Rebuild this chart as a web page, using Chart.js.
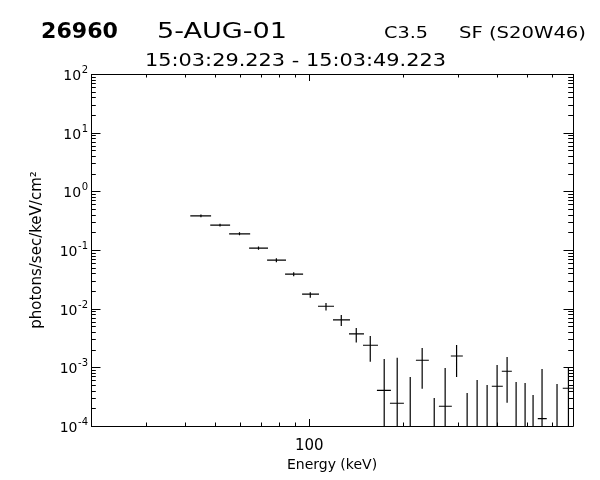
<!DOCTYPE html>
<html>
<head>
<meta charset="utf-8">
<script src="https://cdn.jsdelivr.net/npm/chart.js@4.4.1/dist/chart.umd.min.js"></script>
<style>
  html, body { margin: 0; padding: 0; background: #fff; }
  canvas { display: block; }
</style>
</head>
<body>
<canvas id="spectrum" width="600" height="480"></canvas>
<script>
// energy bins in keV
const binLo  = [41.6, 48.2, 55.4, 64.2, 73.3, 83.7, 94.9, 106.7, 119.2, 134.1, 148.7, 164.8, 181.4, 201.1, 219.7,
                241.7, 260.3, 284.3, 310.6, 331.9, 357.3, 384.6, 414.0, 445.8, 476.4, 505.2, 539.8, 598.4, 649.0];
const binHi  = [48.5, 55.8, 64.7, 73.8, 84.3, 95.6, 107.5, 120.1, 135.1, 149.8, 166.1, 182.7, 201.1, 219.7, 241.7,
                262.3, 286.4, 310.6, 331.9, 357.3, 384.6, 417.1, 445.8, 476.4, 505.2, 539.8, 576.8, 644.2, 708.9];
const binMid = [45.0, 51.8, 59.8, 68.8, 78.5, 89.2, 100.8, 113.2, 126.7, 141.5, 156.9, 173.9, 191.4, 210.7, 230.1,
                251.5, 272.6, 296.6, 320.6, 345.1, 371.5, 399.9, 430.5, 460.1, 491.6, 521.4, 557.1, 622.2, 676.8];

// photons/sec/keV/cm2, null = below the bottom of the plot
const flux   = [0.382, 0.265, 0.189, 0.1075, 0.0671, 0.0387, 0.0177, 0.0110, 0.00643, 0.00371, 0.00238, 4.06e-4, 2.44e-4, null, 1.32e-3,
                null, 2.17e-4, 1.56e-3, null, null, null, 4.76e-4, 8.57e-4, null, null, null, 1.34e-4, null, 4.40e-4];
// error bar ends (1e-6 = runs off the bottom)
const fluxLo = [0.363, 0.252, 0.178, 0.1006, 0.0620, 0.0358, 0.0154, 0.00927, 0.00508, 0.00264, 0.00124, 1e-6, 1e-6, 1e-6, 4.33e-4,
                1e-6, 1e-6, 6.85e-4, 1e-6, 1e-6, 1e-6, 1e-6, 2.50e-4, 1e-6, 1e-6, 1e-6, 1e-6, 1e-6, 1e-6];
const fluxHi = [0.402, 0.279, 0.200, 0.1149, 0.0726, 0.0419, 0.0191, 0.0125, 0.00783, 0.00470, 0.00343, 1.39e-3, 1.45e-3, 6.85e-4, 2.14e-3,
                3.0e-4, 9.76e-4, 2.41e-3, 3.66e-4, 6.09e-4, 5.01e-4, 1.10e-3, 1.50e-3, 5.63e-4, 5.41e-4, 3.38e-4, 9.38e-4, 5.21e-4, 9.95e-4];

const xTicks = [20, 30, 40, 50, 60, 70, 80, 90, 100, 200, 300, 400, 500, 600, 700];
const xTickLabels = { 100: '100' };
const yDecades = [-4, -3, -2, -1, 0, 1, 2];

const yTicks = [];
yDecades.forEach((d, i) => {
  if (i === yDecades.length - 1) { yTicks.push(Math.pow(10, d)); return; }
  for (let m = 1; m <= 9; m++) yTicks.push(m * Math.pow(10, d));
});

const isDecade = v => Math.abs(Math.log10(v) - Math.round(Math.log10(v))) < 1e-6;

// crosses: one path with gaps for the bin widths, one for the error bars
const hBars = [];
const vBars = [];
binMid.forEach((m, i) => {
  if (flux[i] !== null) {
    hBars.push({ x: binLo[i], y: flux[i] }, { x: binHi[i], y: flux[i] }, { x: binHi[i], y: null });
  }
  vBars.push({ x: m, y: fluxLo[i] }, { x: m, y: fluxHi[i] }, { x: m, y: null });
});

const FONT = 'DejaVu Sans';

const frame = {
  id: 'frame',
  afterDatasetsDraw(chart) {
    const { ctx, chartArea: a, scales: { x, y } } = chart;
    ctx.save();
    ctx.strokeStyle = '#000';
    ctx.lineWidth = 1;
    ctx.beginPath();
    ctx.rect(a.left + 0.5, a.top + 0.5, a.right - a.left, a.bottom - a.top);
    xTicks.forEach(v => {
      const px = Math.round(x.getPixelForValue(v)) + 0.5;
      const len = isDecade(v) ? 7 : 3.5;
      ctx.moveTo(px, a.bottom); ctx.lineTo(px, a.bottom - len);
      ctx.moveTo(px, a.top); ctx.lineTo(px, a.top + len);
    });
    yTicks.forEach(v => {
      const py = Math.round(y.getPixelForValue(v)) + 0.5;
      const len = isDecade(v) ? 9.5 : 4.8;
      ctx.moveTo(a.left, py); ctx.lineTo(a.left + len, py);
      ctx.moveTo(a.right, py); ctx.lineTo(a.right - len, py);
    });
    ctx.stroke();

    // y labels: 10 with raised exponent
    ctx.fillStyle = '#000';
    ctx.textAlign = 'right';
    ctx.textBaseline = 'alphabetic';
    yDecades.forEach(d => {
      const py = y.getPixelForValue(Math.pow(10, d));
      const exp = String(d);
      ctx.font = '10px ' + FONT;
      const ew = ctx.measureText(exp).width;
      ctx.fillText(exp, a.left - 3, py - 1);
      ctx.font = '14px ' + FONT;
      ctx.fillText('10', a.left - 3.5 - ew, py + 6);
    });
    ctx.restore();
  }
};

// header lines; the plotting font is wide, so stretch each string to its width
const header = {
  id: 'header',
  afterDraw(chart) {
    const ctx = chart.ctx;
    const put = (txt, font, x, y, width) => {
      ctx.font = font;
      const sx = width / ctx.measureText(txt).width;
      ctx.save();
      ctx.translate(x, y);
      ctx.scale(sx, 1);
      ctx.fillText(txt, 0, 0);
      ctx.restore();
    };
    ctx.save();
    ctx.fillStyle = '#000';
    ctx.textAlign = 'left';
    ctx.textBaseline = 'alphabetic';
    put('26960', 'bold 22px ' + FONT, 41, 38, 77);
    put('5-AUG-01', '21px ' + FONT, 157, 38, 130);
    put('C3.5', '16px ' + FONT, 384, 38, 44);
    put('SF (S20W46)', '16px ' + FONT, 459, 38, 127);
    put('15:03:29.223 - 15:03:49.223', '18px ' + FONT, 145, 66, 301);
    ctx.restore();
  }
};

const barStyle = {
  showLine: true,
  borderColor: '#000',
  borderWidth: 1.2,
  pointRadius: 0,
  pointHoverRadius: 0,
  spanGaps: false
};

new Chart(document.getElementById('spectrum'), {
  type: 'scatter',
  data: {
    datasets: [
      Object.assign({ label: 'bins', data: hBars }, barStyle),
      Object.assign({ label: 'errors', data: vBars }, barStyle)
    ]
  },
  options: {
    responsive: false,
    animation: false,
    events: [],
    layout: { padding: { top: 74, right: 27, left: 0, bottom: 0 } },
    plugins: { legend: { display: false }, tooltip: { enabled: false } },
    scales: {
      x: {
        type: 'logarithmic',
        position: 'bottom',
        min: 20,
        max: 700,
        grid: { display: false, drawTicks: false },
        border: { display: false },
        afterBuildTicks: s => { s.ticks = xTicks.map(v => ({ value: v })); },
        afterFit: s => { s.height = 54; },
        ticks: {
          autoSkip: false,
          maxRotation: 0,
          padding: 11,
          color: '#000',
          font: { family: FONT, size: 15 },
          callback: v => xTickLabels[v] || ''
        },
        title: {
          display: true,
          text: 'Energy (keV)',
          color: '#000',
          font: { family: FONT, size: 14 },
          padding: { top: 0, bottom: 6.6 }
        }
      },
      y: {
        type: 'logarithmic',
        position: 'left',
        min: 1e-4,
        max: 1e2,
        grid: { display: false, drawTicks: false },
        border: { display: false },
        afterBuildTicks: s => { s.ticks = yTicks.map(v => ({ value: v })); },
        afterFit: s => { s.width = 91; },
        ticks: { display: false },
        title: {
          display: true,
          text: 'photons/sec/keV/cm²',
          color: '#000',
          font: { family: FONT, size: 15 },
          padding: { top: 28, bottom: 0 }
        }
      }
    }
  },
  plugins: [frame, header]
});
</script>
</body>
</html>
